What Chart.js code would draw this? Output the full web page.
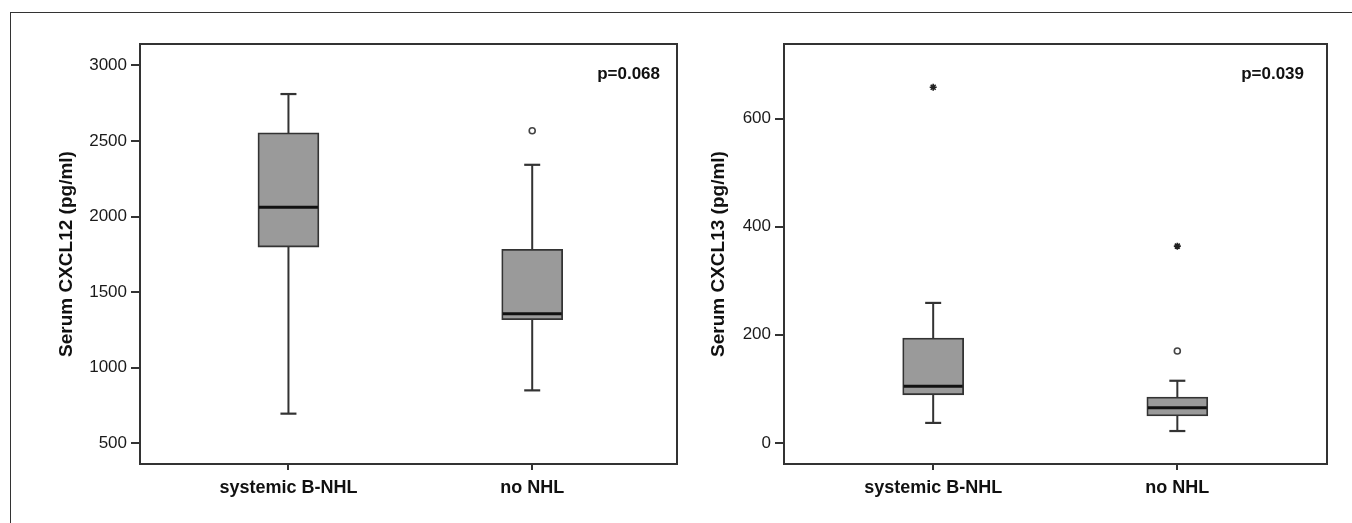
<!DOCTYPE html>
<html><head><meta charset="utf-8">
<script src="https://cdn.jsdelivr.net/npm/chart.js@4.4.0/dist/chart.umd.min.js"></script>
<style>
html,body{margin:0;padding:0;background:#fff;}
#wrap{position:relative;width:1352px;height:523px;overflow:hidden;background:#fff;}
#frame{position:absolute;left:10px;top:12px;width:1400px;height:600px;border-left:1.5px solid #333;border-top:1.5px solid #333;}
.box{position:absolute;top:0;height:523px;width:680px;}
</style></head><body>
<div id="wrap"><div id="frame"></div>
<div class="box" style="left:0"><canvas id="c1" width="680" height="523"></canvas></div>
<div class="box" style="left:672px"><canvas id="c2" width="680" height="523"></canvas></div>
</div>
<script>
// ---- data ----
const groups = ['systemic B-NHL', 'no NHL'];

const cxcl12Min    = [696, 850];
const cxcl12Q1     = [1798, 1318];
const cxcl12Median = [2061, 1357];
const cxcl12Q3     = [2554, 1783];
const cxcl12Max    = [2810, 2342];
const cxcl12Outliers = [[], [2567]];
const cxcl12Extremes = [[], []];
const cxcl12Ticks  = [500, 1000, 1500, 2000, 2500, 3000];
const cxcl12P = 'p=0.068';

const cxcl13Min    = [37, 22];
const cxcl13Q1     = [89, 50];
const cxcl13Median = [105, 65];
const cxcl13Q3     = [194, 85];
const cxcl13Max    = [259, 115];
const cxcl13Outliers = [[], [170]];
const cxcl13Extremes = [[658], [364]];
const cxcl13Ticks  = [0, 200, 400, 600];
const cxcl13P = 'p=0.039';

// ---- rendering ----
const DARK = '#333333';
const FONT = 'Liberation Sans, Arial, sans-serif';

function buildDatasets(mn, q1, med, q3, mx, outl, extr) {
  const ds = [];
  ds.push({
    type: 'bar',
    data: groups.map((g, i) => ({x: i + 1, y: [q1[i], q3[i]]})),
    backgroundColor: '#9a9a9a', borderColor: DARK, borderWidth: 1.8,
    borderSkipped: false, barThickness: 61, order: 2
  });
  groups.forEach((g, i) => {
    ds.push({
      type: 'scatter', showLine: true,
      data: [{x: i + 1, y: mn[i]}, {x: i + 1, y: mx[i]}],
      borderColor: DARK, borderWidth: 2, pointRadius: 0, order: 3
    });
  });
  ds.push({
    type: 'scatter',
    data: groups.flatMap((g, i) => [{x: i + 1, y: mn[i]}, {x: i + 1, y: mx[i]}]),
    pointStyle: 'line', pointRadius: 8, pointBorderColor: DARK, pointBorderWidth: 2.2, order: 1
  });
  ds.push({
    type: 'scatter',
    data: groups.map((g, i) => ({x: i + 1, y: med[i]})),
    pointStyle: 'line', pointRadius: 29.5, pointBorderColor: '#111', pointBorderWidth: 3, order: 1
  });
  ds.push({
    type: 'scatter',
    data: groups.flatMap((g, i) => outl[i].map(v => ({x: i + 1, y: v}))),
    pointStyle: 'circle', pointRadius: 3, pointBackgroundColor: '#fff',
    pointBorderColor: '#444', pointBorderWidth: 1.6, order: 1
  });
  ds.push({
    type: 'scatter',
    data: groups.flatMap((g, i) => extr[i].map(v => ({x: i + 1, y: v}))),
    pointStyle: 'star', pointRadius: 3.5, pointBorderColor: '#222', pointBorderWidth: 1.6, order: 1
  });
  return ds;
}

function makeChart(id, cfg) {
  const framePlugin = {
    id: 'frame',
    afterDraw(chart) {
      const a = chart.chartArea, ctx = chart.ctx;
      ctx.save();
      ctx.strokeStyle = DARK; ctx.lineWidth = 2;
      ctx.strokeRect(a.left, a.top, a.right - a.left, a.bottom - a.top);
      ctx.fillStyle = '#111';
      ctx.font = 'bold 17px ' + FONT;
      ctx.textAlign = 'right'; ctx.textBaseline = 'middle';
      ctx.fillText(cfg.p, a.right - cfg.pRight, a.top + 30);
      ctx.restore();
    }
  };
  return new Chart(document.getElementById(id), {
    type: 'scatter',
    data: {datasets: cfg.datasets},
    plugins: [framePlugin],
    options: {
      responsive: false, animation: false, events: [],
      layout: {autoPadding: false, padding: {top: 44, right: cfg.padRight, bottom: 0, left: 0}},
      plugins: {legend: {display: false}, tooltip: {enabled: false}},
      scales: {
        x: {
          type: 'linear', min: cfg.xMin, max: cfg.xMax, offset: false,
          afterFit(s) { s.height = 59; s.paddingLeft = 0; s.paddingRight = 0; },
          afterBuildTicks(s) { s.ticks = groups.map((g, i) => ({value: i + 1})); },
          grid: {drawOnChartArea: false, drawTicks: true, tickLength: 6, color: DARK, lineWidth: 2, offset: false},
          border: {display: false},
          ticks: {
            callback: v => groups[Math.round(v) - 1], autoSkip: false, maxRotation: 0,
            color: '#111', padding: 7, font: {family: FONT, size: 18, weight: 'bold'}
          }
        },
        y: {
          type: 'linear', min: cfg.yMin, max: cfg.yMax,
          afterFit(s) { s.width = cfg.yWidth; s.paddingTop = 0; s.paddingBottom = 0; },
          afterBuildTicks(s) { s.ticks = cfg.ticks.map(v => ({value: v})); },
          grid: {drawOnChartArea: false, drawTicks: true, tickLength: 9, color: DARK, lineWidth: 2},
          border: {display: false},
          ticks: {
            callback: v => String(v), color: '#1a1a1a', padding: 4,
            font: {family: FONT, size: 17}
          },
          title: {
            display: true, text: cfg.title, color: '#111',
            font: {family: FONT, size: 19, weight: 'bold'},
            padding: {top: cfg.titlePad, bottom: 0}
          }
        }
      }
    }
  });
}

makeChart('c1', {
  datasets: buildDatasets(cxcl12Min, cxcl12Q1, cxcl12Median, cxcl12Q3, cxcl12Max, cxcl12Outliers, cxcl12Extremes),
  ticks: cxcl12Ticks, yMin: 363, yMax: 3141, xMin: 0.391, xMax: 2.594,
  title: 'Serum CXCL12 (pg/ml)', titlePad: 55, yWidth: 140, padRight: 3,
  p: cxcl12P, pRight: 17
});
makeChart('c2', {
  datasets: buildDatasets(cxcl13Min, cxcl13Q1, cxcl13Median, cxcl13Q3, cxcl13Max, cxcl13Outliers, cxcl13Extremes),
  ticks: cxcl13Ticks, yMin: -39, yMax: 738, xMin: 0.389, xMax: 2.613,
  title: 'Serum CXCL13 (pg/ml)', titlePad: 35, yWidth: 112, padRight: 25,
  p: cxcl13P, pRight: 23
});
</script>
</body></html>
